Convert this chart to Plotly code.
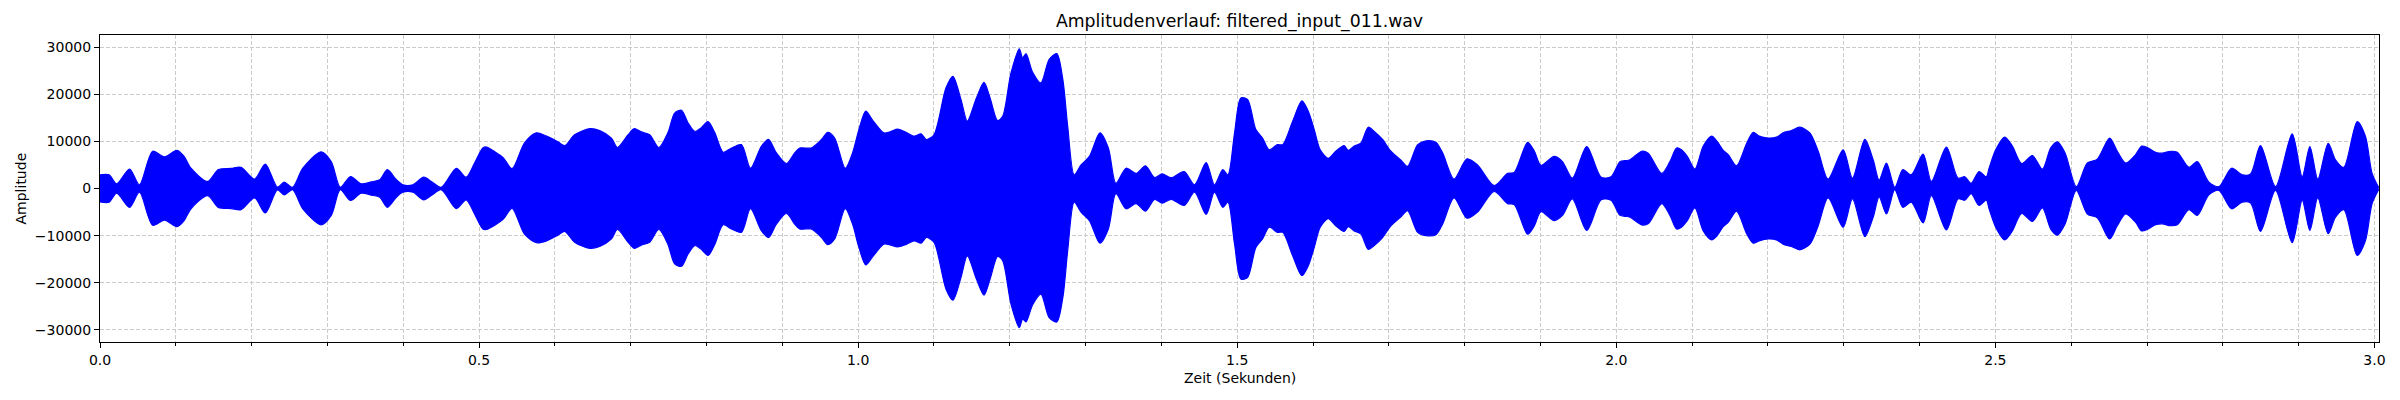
import plotly.graph_objects as go

# envelope of the waveform (seconds / amplitude)
zeit = [
    0.000, 0.012, 0.022, 0.039, 0.052, 0.0695, 0.085, 0.1016, 0.111, 0.120,
    0.142, 0.156, 0.173, 0.186, 0.204, 0.218, 0.234, 0.243, 0.254, 0.2675,
    0.2917, 0.305, 0.317, 0.3305, 0.3445, 0.3577, 0.369, 0.379, 0.391, 0.3995,
    0.4127, 0.427, 0.437, 0.450, 0.470, 0.483, 0.494, 0.505, 0.5097, 0.5207,
    0.532, 0.5435, 0.560, 0.5756, 0.589, 0.604, 0.613, 0.626, 0.646, 0.659,
    0.6746, 0.6825, 0.6966, 0.7045, 0.714, 0.725, 0.737, 0.749, 0.758, 0.767,
    0.7757, 0.7845, 0.7924, 0.802, 0.811, 0.822, 0.833, 0.846, 0.858, 0.8725,
    0.882, 0.892, 0.9055, 0.9165, 0.923, 0.938, 0.9516, 0.960, 0.969, 0.983,
    0.9925, 1.001, 1.010, 1.019, 1.034, 1.043, 1.052, 1.063, 1.074, 1.083,
    1.090, 1.100, 1.1158, 1.125, 1.1356, 1.144, 1.156, 1.166, 1.174, 1.184,
    1.1906, 1.2016, 1.2126, 1.217, 1.2214, 1.230, 1.241, 1.252, 1.262, 1.270,
    1.2764, 1.285, 1.294, 1.305, 1.319, 1.330, 1.340, 1.3534, 1.3666, 1.379,
    1.391, 1.401, 1.413, 1.430, 1.4437, 1.459, 1.470, 1.481, 1.4877, 1.4965,
    1.5048, 1.5136, 1.5246, 1.5334, 1.5422, 1.553, 1.560, 1.573, 1.5853, 1.5937,
    1.6016, 1.6095, 1.620, 1.630, 1.641, 1.6464, 1.6543, 1.663, 1.6728, 1.6807,
    1.6917, 1.7027, 1.716, 1.7247, 1.738, 1.749, 1.762, 1.771, 1.786, 1.803,
    1.817, 1.839, 1.8566, 1.8654, 1.883, 1.892, 1.9006, 1.918, 1.929, 1.942,
    1.961, 1.980, 1.993, 2.0048, 2.0114, 2.018, 2.0334, 2.042, 2.060, 2.0707,
    2.0795, 2.086, 2.0936, 2.1037, 2.1147, 2.1257, 2.133, 2.141, 2.1476, 2.1586,
    2.172, 2.1806, 2.1885, 2.2004, 2.2113, 2.220, 2.231, 2.242, 2.2553, 2.2663,
    2.2794, 2.2992, 2.3115, 2.3278, 2.3388, 2.3467, 2.3563, 2.3673, 2.378, 2.389,
    2.4047, 2.4156, 2.4354, 2.4508, 2.4596, 2.468, 2.4785, 2.488, 2.4917, 2.5004,
    2.5123, 2.5224, 2.5347, 2.5488, 2.562, 2.573, 2.5817, 2.5918, 2.6068, 2.6213,
    2.6344, 2.6507, 2.6608, 2.6718, 2.685, 2.693, 2.7004, 2.7113, 2.7201, 2.7311,
    2.740, 2.7553, 2.7663, 2.7816, 2.7948, 2.8115, 2.8256, 2.8366, 2.8497, 2.8695,
    2.8915, 2.9047, 2.9148, 2.9253, 2.939, 2.9486, 2.9596, 2.9772, 2.9881, 2.9969,
    3.0057,
]

oben = [
    2900, 2900, 1000, 4100, 800, 7900, 6700, 8100, 6800, 4300,
    1500, 4000, 4250, 4500, 2000, 5200, 300, 1350, 250, 4300,
    7800, 5700, 250, 2550, 1000, 1400, 1850, 4000, 1850, 800,
    800, 2400, 1500, 250, 4250, 2400, 5400, 8600, 8800, 7800,
    6500, 4200, 9700, 11800, 11100, 9900, 9100, 11400, 12700, 12300,
    10700, 8700, 11400, 12700, 12000, 11400, 8700, 11800, 16000, 16600,
    13900, 12100, 12800, 14200, 11800, 7700, 8600, 9300, 4300, 9000,
    10400, 7600, 5300, 7600, 8600, 8600, 10400, 11900, 10700, 4300,
    7500, 12500, 16400, 14500, 11800, 12100, 12600, 11900, 11100, 11600,
    10400, 11400, 21300, 23800, 18900, 14300, 19200, 22500, 19200, 14400,
    15300, 24500, 29600, 27700, 28600, 24700, 22400, 27400, 28600, 23100,
    13200, 2900, 5000, 6800, 11800, 8600, 1100, 4300, 3200, 4800,
    2300, 3100, 2300, 3600, 800, 5500, 800, 4000, 2900, 11800,
    19200, 18900, 12500, 10700, 8200, 9300, 9300, 14200, 18600, 16400,
    12500, 8200, 6400, 7900, 9100, 8100, 9000, 9600, 13000, 12100,
    10400, 7900, 6000, 4700, 9300, 10100, 9800, 7500, 2000, 6300,
    5000, 600, 3200, 3400, 9800, 7900, 4900, 6800, 5700, 2200,
    8900, 2400, 2500, 5700, 5900, 6100, 7900, 7500, 3200, 5700,
    8600, 8200, 6800, 4100, 9000, 11100, 10000, 8100, 7200, 4800,
    9600, 11900, 11100, 10700, 10900, 11800, 12300, 13000, 11800, 7900,
    2000, 8200, 2200, 10400, 6100, 1800, 5400, 250, 4000, 2900,
    7300, 1500, 8800, 2200, 2500, 1100, 3600, 2500, 4300, 8200,
    10900, 9000, 5300, 7000, 4100, 8600, 9900, 7600, 400, 5400,
    6200, 10700, 7900, 5400, 7200, 9000, 8700, 7700, 7500, 7900,
    7700, 4500, 5700, 1350, 400, 4300, 2900, 3100, 9100, 400,
    11600, 2500, 8900, 2000, 9600, 6100, 4500, 14200, 11100, 3200,
    200,
]

unten = [
    -2840, -2900, -1000, -4000, -800, -7800, -6700, -8100, -6800, -4300,
    -1500, -4000, -4250, -4500, -2000, -5200, -300, -1350, -250, -4300,
    -7700, -5700, -250, -2550, -1000, -1400, -1850, -4000, -1850, -800,
    -800, -2400, -1500, -250, -4250, -2400, -5400, -8600, -8700, -7800,
    -6500, -4200, -9700, -11500, -11100, -9900, -9100, -11400, -12700, -12300,
    -10700, -8700, -11400, -12700, -12000, -11400, -8700, -11800, -16000, -16500,
    -13900, -12100, -12800, -14200, -11800, -7700, -8600, -9300, -4300, -9000,
    -10400, -7600, -5300, -7600, -8600, -8600, -10400, -11900, -10700, -4300,
    -7500, -12500, -16200, -14500, -11800, -12000, -12400, -11900, -11100, -11600,
    -10400, -11400, -21300, -23700, -18900, -14300, -19200, -22600, -19200, -14400,
    -15300, -24500, -29500, -27700, -28300, -24700, -22400, -27400, -28300, -23100,
    -13200, -2900, -5000, -6800, -11600, -8600, -1100, -4300, -3200, -4800,
    -2300, -3100, -2300, -3600, -800, -5500, -800, -4000, -2900, -11800,
    -19200, -18900, -12500, -10700, -8200, -9300, -9300, -14200, -18500, -16400,
    -12500, -8200, -6400, -7900, -9100, -8100, -9000, -9600, -12900, -12100,
    -10400, -7900, -6000, -4700, -9300, -10000, -9800, -7500, -2000, -6300,
    -5000, -600, -3200, -3400, -9700, -7900, -4900, -6800, -5700, -2200,
    -8900, -2400, -2500, -5700, -5900, -6100, -7700, -7500, -3200, -5700,
    -8600, -8200, -6800, -4100, -9000, -10900, -10000, -8100, -7200, -4800,
    -9600, -11600, -11100, -10700, -10900, -11800, -12300, -13000, -11800, -7900,
    -2000, -8200, -2200, -10200, -6100, -1800, -5400, -250, -4000, -2900,
    -7300, -1500, -8800, -2200, -2500, -1100, -3600, -2500, -4300, -8200,
    -10900, -9000, -5300, -7000, -4100, -8600, -9900, -7600, -400, -5400,
    -6200, -10700, -7900, -5400, -7200, -9000, -8700, -7700, -7500, -7900,
    -7700, -4500, -5700, -1350, -400, -4300, -2900, -3100, -9100, -400,
    -11500, -2500, -8900, -2000, -9600, -6100, -4500, -14200, -11100, -3200,
    -200,
]

x_ticks = [0.0, 0.5, 1.0, 1.5, 2.0, 2.5, 3.0]
x_labels = ["0.0", "0.5", "1.0", "1.5", "2.0", "2.5", "3.0"]
y_ticks = [-30000, -20000, -10000, 0, 10000, 20000, 30000]
y_labels = ["\u221230000", "\u221220000", "\u221210000", "0", "10000", "20000", "30000"]

grid_col = "#cbcbcb"
font = "DejaVu Sans"

fig = go.Figure()
fig.add_trace(go.Scatter(x=zeit, y=oben, mode="lines",
                         line=dict(color="blue", width=1.2, shape="spline", smoothing=0.8),
                         hoverinfo="skip", showlegend=False))
fig.add_trace(go.Scatter(x=zeit, y=unten, mode="lines", fill="tonexty",
                         fillcolor="blue",
                         line=dict(color="blue", width=1.2, shape="spline", smoothing=0.8),
                         hoverinfo="skip", showlegend=False))

# page body has an 8px margin, so the figure is a bit smaller than the window
fig.update_layout(
    width=2392, height=392,
    margin=dict(l=92, r=21, t=27, b=58),
    plot_bgcolor="white", paper_bgcolor="white",
    font=dict(family=font, size=14, color="black"),
    title=dict(text="Amplitudenverlauf: filtered_input_011.wav",
               x=0.5, xref="paper", xanchor="center",
               y=0.967, yref="container", yanchor="middle",
               font=dict(size=17.3, family=font, color="black")),
    annotations=[
        dict(text="Zeit (Sekunden)", x=0.5, y=0, xref="paper", yref="paper",
             xanchor="center", yanchor="middle", yshift=-36, showarrow=False,
             font=dict(size=14, family=font, color="black")),
        dict(text="Amplitude", x=0, y=0.5, xref="paper", yref="paper",
             xanchor="center", yanchor="middle", xshift=-80, textangle=-90,
             showarrow=False, font=dict(size=14, family=font, color="black")),
    ],
)

fig.update_xaxes(
    range=[0, 3.006], tickvals=x_ticks, ticktext=x_labels,
    ticks="outside", ticklen=5, tickwidth=1, tickcolor="black",
    showline=True, linecolor="black", linewidth=1.1, mirror=True,
    showgrid=True, gridcolor=grid_col, gridwidth=1, griddash="4px,2px",
    zeroline=False,
    minor=dict(dtick=0.1, tick0=0, ticks="outside", ticklen=3, tickcolor="black",
               showgrid=True, gridcolor=grid_col, gridwidth=1, griddash="4px,2px"),
)
fig.update_yaxes(
    range=[-32560, 32560], tickvals=y_ticks, ticktext=y_labels,
    ticks="outside", ticklen=5, tickwidth=1, tickcolor="black",
    showline=True, linecolor="black", linewidth=1.1, mirror=True,
    showgrid=True, gridcolor=grid_col, gridwidth=1, griddash="4px,2px",
    zeroline=False,
)

fig.write_html("out.html")
